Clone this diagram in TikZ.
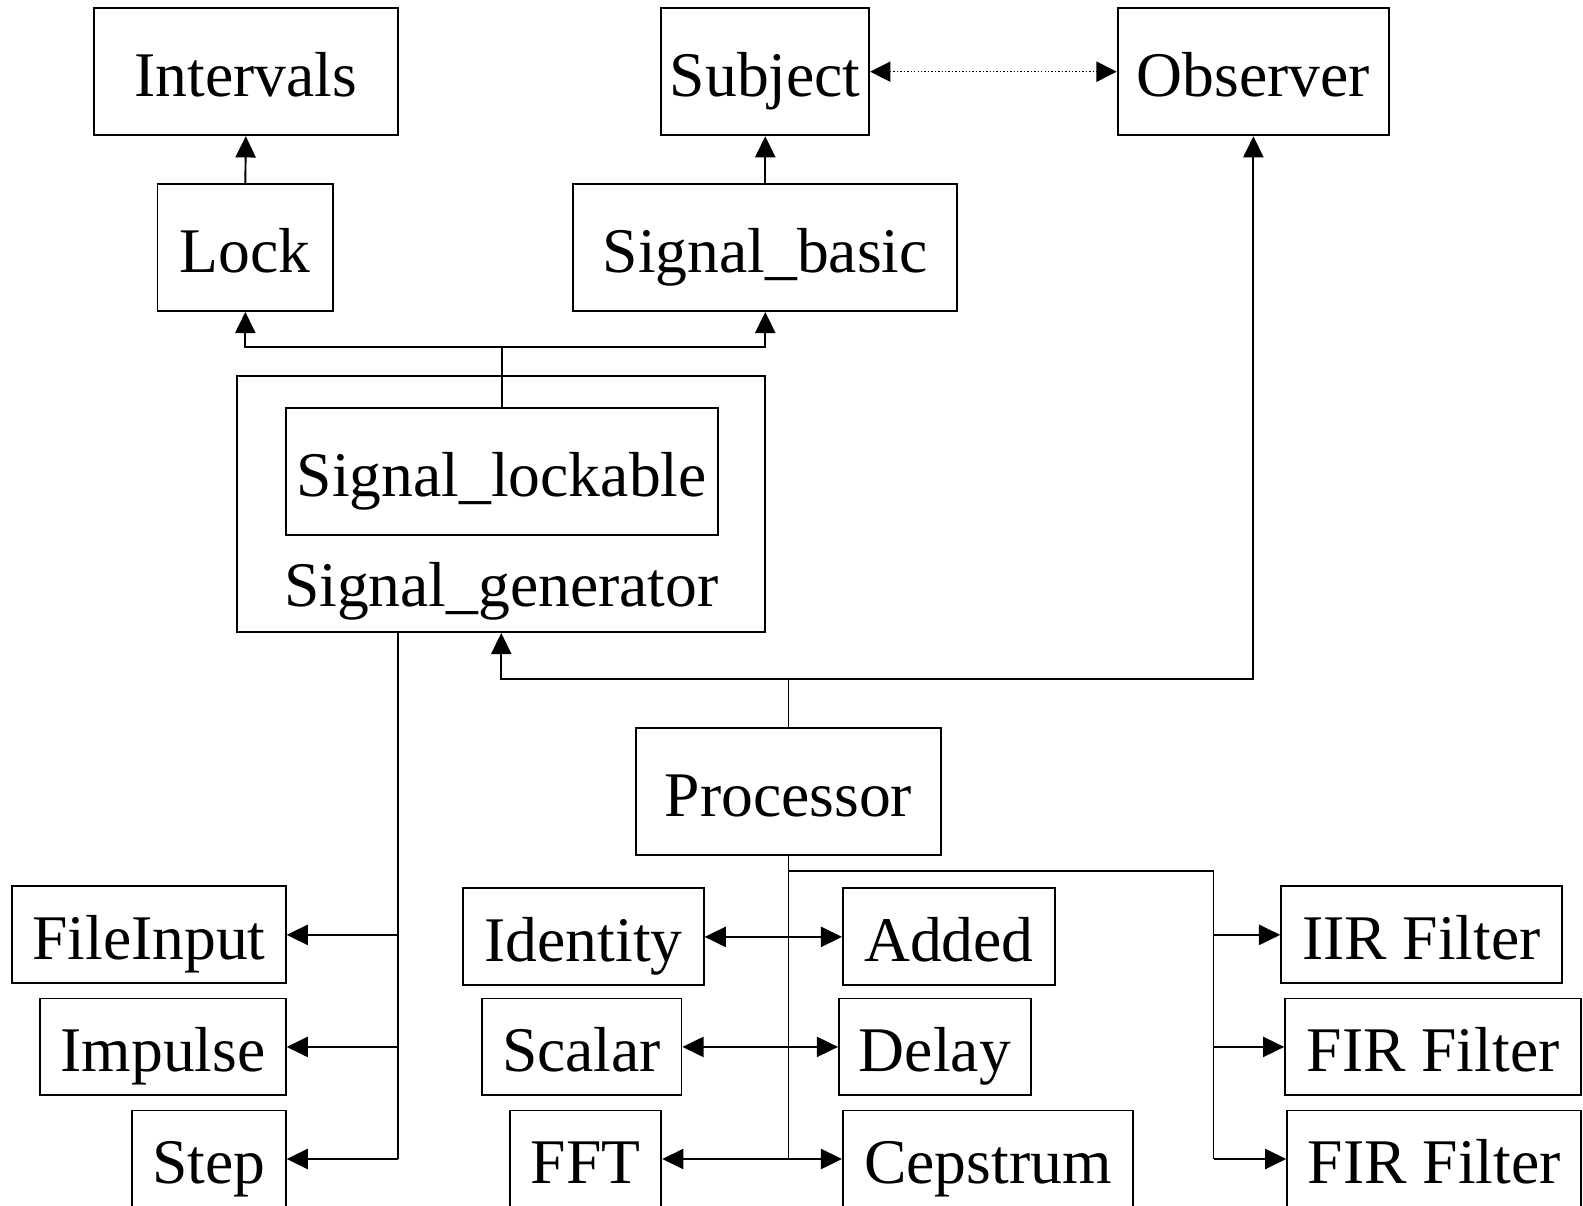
\documentclass[tikz,border=0pt]{standalone}
\usepackage{fontspec}
\setmainfont{Liberation Serif}
\usetikzlibrary{arrows.meta}
\begin{document}
\begin{tikzpicture}[x=1pt,y=-1pt,
  font=\fontsize{63}{70}\selectfont,
  box/.style={draw, line width=1.9pt, inner sep=0pt, text height=64pt, text depth=15pt, minimum height=126pt},
  sbox/.style={box, minimum height=96pt},
  conn/.style={line width=1.9pt},
  arr/.style={conn, -{Triangle[length=21pt,width=20pt]}},
  arrb/.style={conn, {Triangle[length=21pt,width=20pt]}-{Triangle[length=21pt,width=20pt]}},
  dotarr/.style={line width=1.4pt, dotted, {Triangle[length=20pt,width=20pt]}-{Triangle[length=20pt,width=20pt]}}
]
\useasboundingbox (0,0) rectangle (1568,1194);
\clip (0,0) rectangle (1568,1194);
\fill[white] (0,0) rectangle (1568,1194);

% top row
\node[box, minimum width=301pt] (intervals) at (243.5,71) {Intervals};
\node[box, minimum width=206pt] (subject) at (758,71) {Subject};
\node[box, minimum width=269pt] (observer) at (1241.5,71) {Observer};

% second row
\node[box, minimum width=174pt] (lock) at (243,245) {Lock};
\node[box, minimum width=380pt] (basic) at (758,245) {Signal\_basic};

% signal generator
\node[draw, line width=1.9pt, inner sep=0pt, minimum width=523pt, minimum height=254pt] (gen) at (496.5,499) {};
\node[box, minimum width=428pt] (lockable) at (497,467) {Signal\_lockable};
\node[anchor=base, inner sep=0pt] (genlabel) at (496.5,601) {Signal\_generator};

% processor
\node[box, minimum width=302pt] (processor) at (781,784) {Processor};

% left column
\node[sbox, minimum width=271pt] (fileinput) at (147.5,926) {FileInput};
\node[sbox, minimum width=243pt] (impulse) at (161.5,1037) {Impulse};
\node[sbox, minimum width=152pt] (stepnode) at (207,1148) {Step};

% middle columns
\node[sbox, minimum width=238pt] (identity) at (578,928) {Identity};
\node[sbox, minimum width=198pt] (scalar) at (576,1037) {Scalar};
\node[sbox, minimum width=150pt] (fft) at (580,1148) {FFT};
\node[sbox, minimum width=210pt] (added) at (940,928) {Added};
\node[sbox, minimum width=190pt] (delay) at (926,1037) {Delay};
\node[sbox, minimum width=287pt] (cepstrum) at (978.5,1148) {Cepstrum};

% right column
\node[sbox, minimum width=278pt] (iir) at (1408,926) {IIR Filter};
\node[sbox, minimum width=293pt] (fir1) at (1419.5,1037) {FIR Filter};
\node[sbox, minimum width=291pt] (fir2) at (1420.5,1148) {FIR Filter};

% inheritance at top
\draw[arr] (lock.north) -- (intervals.south);
\draw[arr] (basic.north) -- (subject.south);
\draw[dotarr] (subject.east) -- (observer.west);

\coordinate (j1) at (497,344);
\draw[conn] (lockable.north) -- (j1);
\draw[arr] (j1) -| (lock.south);
\draw[arr] (j1) -| (basic.south);

\coordinate (j2) at (781,673);
\draw[conn] (processor.north) -- (j2);
\draw[arr] (j2) -| (gen.south);
\draw[arr] (j2) -| (observer.south);

% generator branch
\coordinate (gtap) at (394,626);
\coordinate (gend) at (394,1148);
\draw[conn] (gtap) -- (gend);
\draw[arr] (fileinput.east -| gtap) -- (fileinput.east);
\draw[arr] (impulse.east -| gtap) -- (impulse.east);
\draw[arr] (stepnode.east -| gtap) -- (stepnode.east);

% processor branch
\coordinate (pend) at (781,1148);
\draw[conn] (processor.south) -- (pend);
\draw[arrb] (identity.east) -- (added.west);
\draw[arrb] (scalar.east) -- (delay.west);
\draw[arrb] (fft.east) -- (cepstrum.west);

\coordinate (ptap) at (781,863);
\coordinate (fend) at (1202,1148);
\draw[conn] (ptap) -| (fend);
\draw[arr] (iir.west -| fend) -- (iir.west);
\draw[arr] (fir1.west -| fend) -- (fir1.west);
\draw[arr] (fir2.west -| fend) -- (fir2.west);
\end{tikzpicture}
\end{document}
